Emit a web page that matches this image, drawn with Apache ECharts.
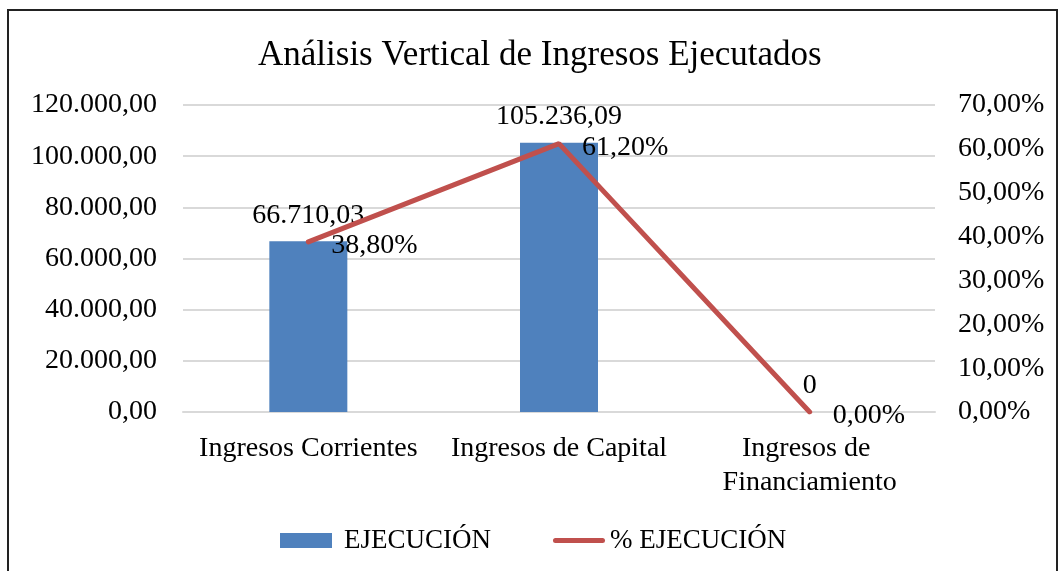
<!DOCTYPE html>
<html>
<head>
<meta charset="utf-8">
<script src="https://cdn.jsdelivr.net/npm/echarts@6/dist/echarts.min.js"></script>
<style>
  html, body { margin: 0; padding: 0; background: #fff; overflow: hidden; }
  #main { width: 1060px; height: 571px; }
</style>
</head>
<body>
<div id="main"></div>
<script>
  // datos
  const categories = ['Ingresos Corrientes', 'Ingresos de Capital', 'Ingresos de Financiamiento']
  const ejecucion = [66710.03, 105236.09, 0]
  const pctEjecucion = [38.80, 61.20, 0.00]

  const FONT = "'Liberation Serif', 'Times New Roman', serif"

  // formato es: 66.710,03
  function fmtNum(v, dec) {
    let parts = v.toFixed(dec).split('.')
    let ent = parts[0].replace(/\B(?=(\d{3})+(?!\d))/g, '.')
    return parts.length > 1 ? ent + ',' + parts[1] : ent
  }

  let myChart = echarts.init(document.getElementById('main'))
  myChart.setOption({
    backgroundColor: '#fff',
    textStyle: { fontFamily: FONT },
    graphic: [{
      type: 'rect',
      shape: { x: 8, y: 10, width: 1049, height: 600 },
      style: { fill: 'none', stroke: '#222', lineWidth: 2 },
      silent: true
    }],
    title: {
      text: 'Análisis Vertical de Ingresos Ejecutados',
      left: 253,
      top: 33,
      textStyle: { fontFamily: FONT, fontSize: 35, fontWeight: 'normal', color: '#000' }
    },
    legend: {
      bottom: 12,
      left: 275,
      itemGap: 62,
      itemWidth: 52,
      itemHeight: 15,
      symbolKeepAspect: true,
      textStyle: { fontFamily: FONT, fontSize: 27, color: '#000' },
      data: [
        { name: 'EJECUCIÓN', icon: 'rect', textStyle: { padding: [0, 0, 0, 7] } },
        { name: '% EJECUCIÓN', icon: 'path://M2.5,0 L49.5,0 A2.5,2.5 0 0 1 49.5,5 L2.5,5 A2.5,2.5 0 0 1 2.5,0 Z' }
      ]
    },
    grid: {
      left: 183,
      right: 125,
      top: 105,
      bottom: 159
    },
    xAxis: {
      type: 'category',
      data: categories,
      axisTick: { show: false },
      axisLine: { lineStyle: { color: '#d9d9d9', width: 2 } },
      axisLabel: {
        fontFamily: FONT,
        fontSize: 28,
        color: '#000',
        margin: 20,
        width: 245,
        overflow: 'break',
        lineHeight: 34,
        interval: 0
      }
    },
    yAxis: [
      {
        type: 'value',
        min: 0,
        max: 120000,
        interval: 20000,
        axisLine: { show: false },
        axisTick: { show: false },
        splitLine: { lineStyle: { color: '#d9d9d9', width: 2 } },
        axisLabel: {
          fontFamily: FONT,
          fontSize: 28,
          color: '#000',
          margin: 26,
          formatter: v => fmtNum(v, 2)
        }
      },
      {
        type: 'value',
        min: 0,
        max: 70,
        interval: 10,
        axisLine: { show: false },
        axisTick: { show: false },
        splitLine: { show: false },
        axisLabel: {
          fontFamily: FONT,
          fontSize: 28,
          color: '#000',
          margin: 23,
          formatter: v => fmtNum(v, 2) + '%'
        }
      }
    ],
    series: [
      {
        name: 'EJECUCIÓN',
        type: 'bar',
        data: ejecucion,
        barWidth: 78,
        itemStyle: { color: '#4F81BD' },
        label: {
          show: true,
          position: 'top',
          distance: 12,
          fontFamily: FONT,
          fontSize: 28,
          color: '#000',
          formatter: p => p.value === 0 ? '0' : fmtNum(p.value, 2)
        }
      },
      {
        name: '% EJECUCIÓN',
        type: 'line',
        yAxisIndex: 1,
        data: pctEjecucion,
        symbol: 'circle',
        symbolSize: 2,
        itemStyle: { color: '#C0504D' },
        lineStyle: { color: '#C0504D', width: 5, cap: 'round' },
        label: {
          show: true,
          position: 'right',
          distance: 22,
          offset: [0, 4],
          fontFamily: FONT,
          fontSize: 28,
          color: '#000',
          formatter: p => fmtNum(p.value, 2) + '%'
        }
      }
    ]
  })
</script>
</body>
</html>
